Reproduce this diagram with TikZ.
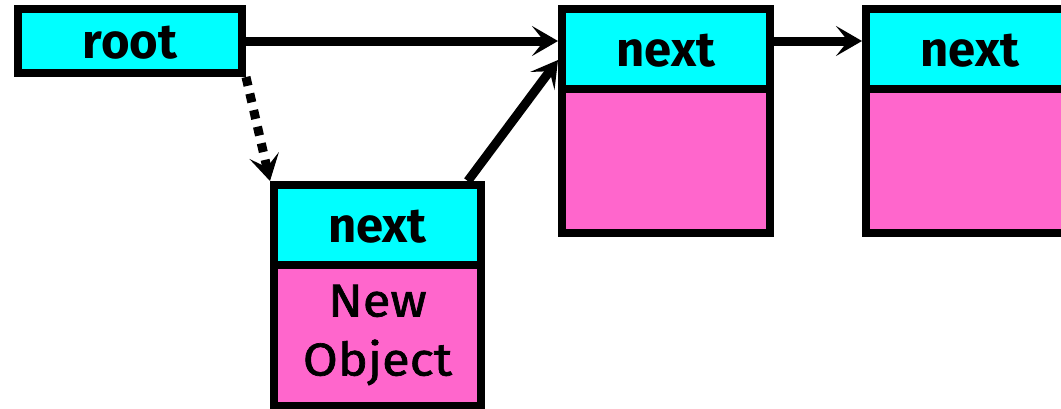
\documentclass[tikz,border=0pt]{standalone}
\usepackage{fontspec}
\setmainfont{Fira Sans}
\usetikzlibrary{arrows.meta,calc}
\definecolor{boxcyan}{HTML}{00FFFF}
\definecolor{boxpink}{HTML}{FF66CC}
\begin{document}
\begin{tikzpicture}[x=1pt,y=-1pt,
  cell/.style={draw=black,line width=8pt,inner sep=0pt,minimum width=208pt},
  head/.style={cell,fill=boxcyan,minimum height=80pt,
    font=\fontsize{49}{49}\selectfont\bfseries,text height=34pt,text depth=0pt},
  body/.style={cell,fill=boxpink,minimum height=144pt},
  link/.style={line width=9pt,draw=black,-{Stealth[length=26pt,width=30pt,inset=12pt]}},
  dotlink/.style={link,dash pattern=on 9pt off 8pt},
]
\useasboundingbox (0,0) rectangle (1061,408);
% root
\node[head,minimum width=224pt,minimum height=64pt] (root) at (130,41) {root};
% first list element
\node[body] (b1) at (666,161) {};
\node[head] (h1) at (666,49) {next};
% second list element
\node[body] (b2) at (970,161) {};
\node[head] (h2) at (970,49) {next};
% new object
\node[body,minimum width=207pt,minimum height=142pt,align=center,
  font=\fontsize{46}{59}\selectfont\addfontfeatures{FakeBold=1.5,FakeStretch=1.1}] (nb) at (377.5,335) {New\\Object};
\node[head,minimum width=207pt] (nh) at (377.5,225) {next};
% connectors
\draw[link] (root.east) -- (root.east -| h1.west);
\draw[link] (root.east -| h1.east) -- (root.east -| h2.west);
\draw[dotlink] (root.south east) -- (nh.north west);
\draw[link] ($(nh.north west)!0.92!(nh.north east)$) -- ($(h1.west)+(0,11)$);
\end{tikzpicture}
\end{document}
